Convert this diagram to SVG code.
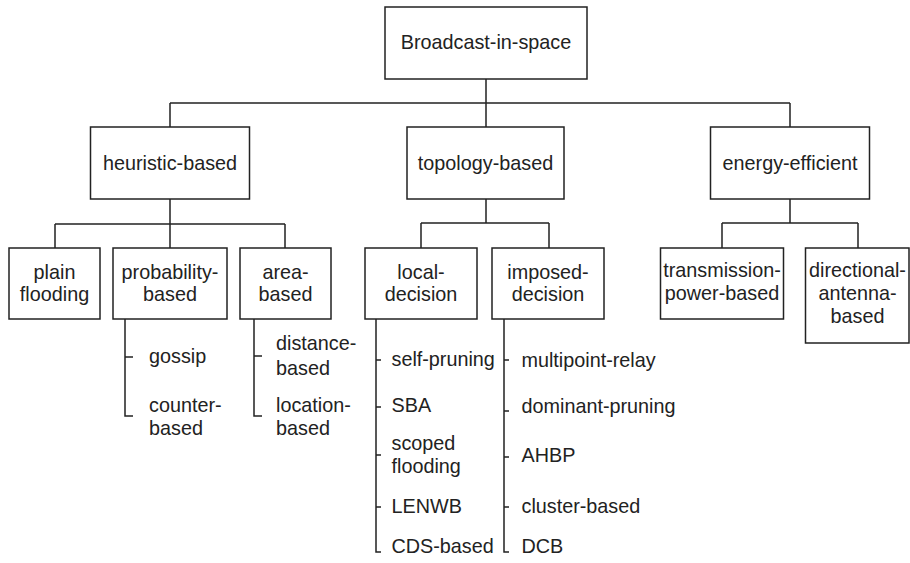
<svg xmlns="http://www.w3.org/2000/svg" width="910" height="563" viewBox="0 0 910 563">
<style>
rect{fill:#fff;stroke:#222;stroke-width:1.5}
.c path{fill:none;stroke:#222;stroke-width:1.5}
text{font-family:"Liberation Sans",Arial,sans-serif;font-size:19.8px;fill:#222}
.m{text-anchor:middle}
</style>
<rect x="0" y="0" width="910" height="563" style="stroke:none"/>
<g class="c" id="connectors">
<path d="M486 79V103M170 103H790M170 103V127M486 103V127M790 103V127"/>
<path d="M170 199V224M55 224H285M55 224V248M170 224V248M285 224V248"/>
<path d="M486 199V223M421 223H549M421 223V248M549 223V248"/>
<path d="M790 199V223M722 223H858M722 223V248M858 223V248"/>
<path d="M125 319V416H133M125 357H133"/>
<path d="M254 319V416H262M254 356H262"/>
<path d="M376 319V552H381M376 360H381M376 407H381M376 455H381M376 507H381"/>
<path d="M504 319V552H509M504 360H509M504 411H509M504 457H509M504 507H509"/>
</g>
<g id="root"><rect x="385" y="7" width="202" height="72"/><text class="m" x="486" y="49">Broadcast-in-space</text></g>
<g id="heuristic"><rect x="90.5" y="127" width="159" height="72"/><text class="m" x="170" y="170">heuristic-based</text></g>
<g id="topology"><rect x="407" y="127" width="157" height="72"/><text class="m" x="485.5" y="170">topology-based</text></g>
<g id="energy"><rect x="710.5" y="127" width="159" height="72"/><text class="m" x="790" y="170">energy-efficient</text></g>
<g id="plain"><rect x="9" y="248" width="91" height="71"/><text class="m" x="54.5" y="279">plain</text><text class="m" x="54.5" y="301">flooding</text></g>
<g id="probability"><rect x="113" y="248" width="114" height="71"/><text class="m" x="170" y="279">probability-</text><text class="m" x="170" y="301">based</text></g>
<g id="area"><rect x="240" y="248" width="91" height="71"/><text class="m" x="285.5" y="279">area-</text><text class="m" x="285.5" y="301">based</text></g>
<g id="local"><rect x="365" y="248" width="112" height="71"/><text class="m" x="421" y="279">local-</text><text class="m" x="421" y="301">decision</text></g>
<g id="imposed"><rect x="492" y="248" width="112" height="71"/><text class="m" x="548" y="279">imposed-</text><text class="m" x="548" y="301">decision</text></g>
<g id="transmission"><rect x="660.5" y="248" width="123" height="71"/><text class="m" x="722" y="277">transmission-</text><text class="m" x="722" y="300">power-based</text></g>
<g id="directional"><rect x="805.5" y="248" width="103.5" height="95"/><text class="m" x="857.5" y="277">directional-</text><text class="m" x="857.5" y="300">antenna-</text><text class="m" x="857.5" y="323">based</text></g>
<g id="gossip"><text x="149" y="363">gossip</text></g>
<g id="counter"><text x="149" y="412">counter-</text><text x="149" y="435">based</text></g>
<g id="distance"><text x="276" y="350">distance-</text><text x="276" y="375">based</text></g>
<g id="location"><text x="276" y="412">location-</text><text x="276" y="435">based</text></g>
<g id="selfpruning"><text x="391.5" y="366">self-pruning</text></g>
<g id="sba"><text x="391.5" y="412">SBA</text></g>
<g id="scoped"><text x="391.5" y="450">scoped</text><text x="391.5" y="473">flooding</text></g>
<g id="lenwb"><text x="391.5" y="513">LENWB</text></g>
<g id="cds"><text x="391.5" y="553">CDS-based</text></g>
<g id="mpr"><text x="521.5" y="367">multipoint-relay</text></g>
<g id="dominant"><text x="521.5" y="413">dominant-pruning</text></g>
<g id="ahbp"><text x="521.5" y="462">AHBP</text></g>
<g id="cluster"><text x="521.5" y="513">cluster-based</text></g>
<g id="dcb"><text x="521.5" y="553">DCB</text></g>
</svg>
